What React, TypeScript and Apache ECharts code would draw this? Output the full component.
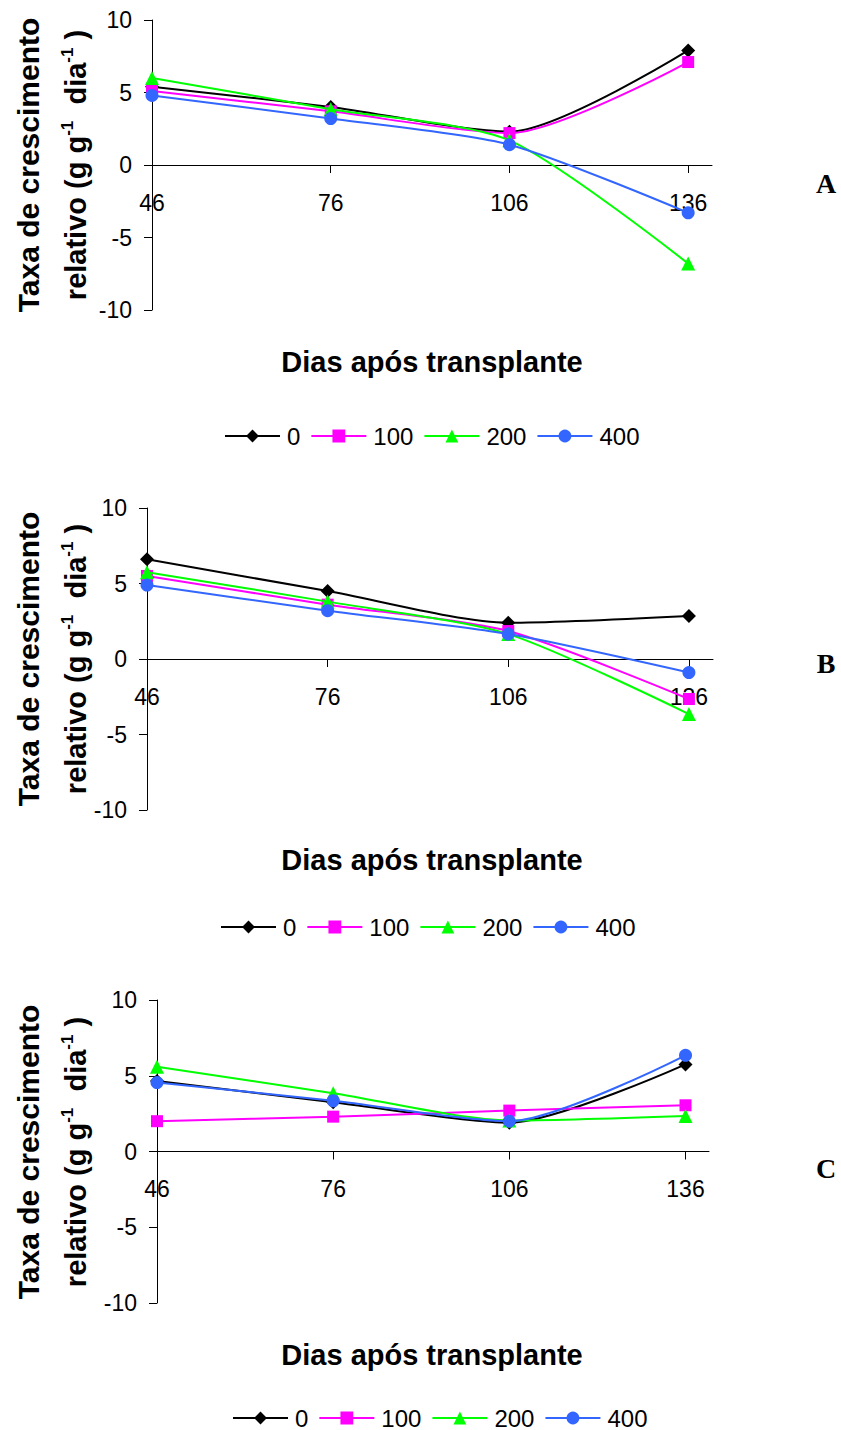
import React, { useEffect, useRef } from "react";
import * as echarts from "echarts";

const days = [46, 76, 106, 136];
const doses = ["0", "100", "200", "400"];

const panelA0 = [5.4, 4.0, 2.3, 7.9];
const panelA100 = [5.1, 3.7, 2.2, 7.1];
const panelA200 = [6.0, 3.85, 1.7, -6.8];
const panelA400 = [4.8, 3.2, 1.4, -3.3];

const panelB0 = [6.6, 4.5, 2.4, 2.85];
const panelB100 = [5.5, 3.6, 1.85, -2.65];
const panelB200 = [5.75, 3.8, 1.65, -3.65];
const panelB400 = [4.9, 3.2, 1.65, -0.9];

const panelC0 = [4.65, 3.25, 1.9, 5.75];
const panelC100 = [2.0, 2.3, 2.7, 3.05];
const panelC200 = [5.6, 3.85, 2.05, 2.35];
const panelC400 = [4.55, 3.35, 2.0, 6.35];

const panelLetters = ["A", "B", "C"];
const xTitle = "Dias após transplante";
const yTitle1 = "Taxa de crescimento";

const colors = ["#000000", "#FF00FF", "#00FF00", "#3366FF"];
const symbols = ["diamond", "rect", "triangle", "circle"];
const symbolSizes = [14, 12, 14, 13];

const FONT = "'Liberation Sans', Arial, Helvetica, sans-serif";

const layouts = [
  { left: 152, top: 20, width: 560, height: 290, xTitleY: 362, legendLeft: 219, legendY: 432, letterY: 183, yTitleY: 165 },
  { left: 147, top: 508, width: 566, height: 302, xTitleY: 860, legendLeft: 215, legendY: 923, letterY: 663, yTitleY: 659 },
  { left: 157, top: 1000, width: 552, height: 303, xTitleY: 1355, legendLeft: 227, legendY: 1414, letterY: 1168, yTitleY: 1152 },
];

export default function App() {
  const ref = useRef<HTMLDivElement>(null);
  useEffect(() => {
    document.body.style.margin = "0";
    if (!ref.current) return;
    const chart = echarts.init(ref.current, null, { renderer: "svg" });
    const panels = [
      [panelA0, panelA100, panelA200, panelA400],
      [panelB0, panelB100, panelB200, panelB400],
      [panelC0, panelC100, panelC200, panelC400],
    ];
    const grid: any[] = [];
    const xAxis: any[] = [];
    const yAxis: any[] = [];
    const series: any[] = [];
    const legend: any[] = [];
    const graphic: any[] = [];
    layouts.forEach((L, p) => {
      grid.push({ left: L.left, top: L.top, width: L.width, height: L.height, containLabel: false });
      xAxis.push({
        type: "value",
        gridIndex: p,
        position: "bottom",
        offset: -L.height / 2,
        min: 46,
        max: 140,
        axisLine: { show: true, onZero: false, lineStyle: { color: "#000", width: 1 } },
        axisTick: { show: true, length: 8, customValues: days, lineStyle: { color: "#000" } },
        axisLabel: { customValues: days, margin: 26, fontSize: 23, color: "#000", fontFamily: FONT },
        splitLine: { show: false },
      });
      yAxis.push({
        type: "value",
        gridIndex: p,
        min: -10,
        max: 10,
        interval: 5,
        axisLine: { show: true, onZero: false, lineStyle: { color: "#000", width: 1 } },
        axisTick: { show: true, length: 8, lineStyle: { color: "#000" } },
        axisLabel: { margin: 20, fontSize: 23, color: "#000", fontFamily: FONT },
        splitLine: { show: false },
      });
      panels[p].forEach((vals, s) => {
        series.push({
          type: "line",
          name: doses[s],
          xAxisIndex: p,
          yAxisIndex: p,
          data: days.map((d, i) => [d, vals[i]]),
          smooth: 0.25,
          symbol: symbols[s],
          symbolSize: symbolSizes[s],
          lineStyle: { color: colors[s], width: 2 },
          itemStyle: { color: colors[s] },
          z: 2 + s,
        });
      });
      legend.push({
        data: doses,
        left: L.legendLeft,
        top: L.legendY - 13,
        orient: "horizontal",
        itemWidth: 55,
        itemHeight: 16,
        itemGap: 10,
        selectedMode: false,
        textStyle: { fontSize: 24, color: "#000", fontFamily: FONT, padding: [0, 0, 0, 2] },
      });
      graphic.push({
        type: "text",
        x: 432,
        y: L.xTitleY,
        style: {
          text: xTitle,
          font: `bold 29px ${FONT}`,
          fill: "#000",
          textAlign: "center",
          textVerticalAlign: "middle",
        },
      });
      graphic.push({
        type: "text",
        x: 826,
        y: L.letterY,
        style: {
          text: panelLetters[p],
          font: "bold 28px 'Liberation Serif', 'Times New Roman', serif",
          fill: "#000",
          textAlign: "center",
          textVerticalAlign: "middle",
        },
      });
      graphic.push({
        type: "text",
        x: 28,
        y: L.yTitleY,
        rotation: Math.PI / 2,
        style: {
          text: yTitle1,
          font: `bold 30px ${FONT}`,
          fill: "#000",
          textAlign: "center",
          textVerticalAlign: "middle",
        },
      });
      graphic.push({
        type: "text",
        x: 76,
        y: L.yTitleY,
        rotation: Math.PI / 2,
        style: {
          text: "{a|relativo (g g}{s|-1}{a|  dia}{s|-1}{a| )}",
          fill: "#000",
          textAlign: "center",
          textVerticalAlign: "middle",
          rich: {
            a: { fontSize: 29, fontWeight: "bold", fontFamily: FONT, lineHeight: 34, fill: "#000" },
            s: { fontSize: 17, fontWeight: "bold", fontFamily: FONT, lineHeight: 17, verticalAlign: "top", fill: "#000" },
          },
        },
      });
    });
    chart.setOption({
      animation: false,
      backgroundColor: "#fff",
      grid,
      xAxis,
      yAxis,
      series,
      legend,
      graphic,
    });
    return () => chart.dispose();
  }, []);
  return <div ref={ref} style={{ width: 841, height: 1430 }} />;
}
